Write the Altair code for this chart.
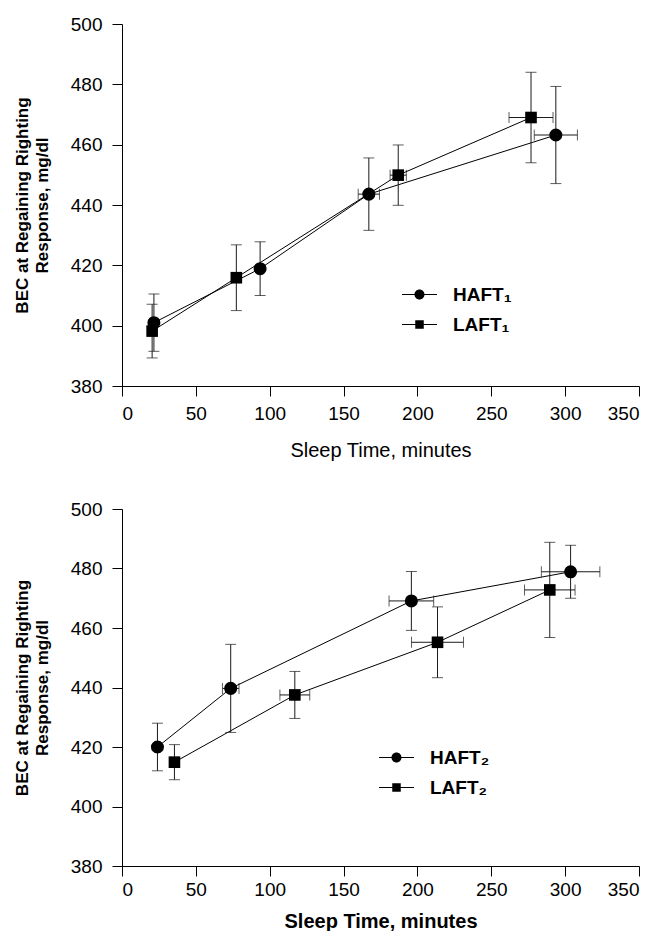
import altair as alt
import pandas as pd

FONT = "Liberation Sans"

# ---- Panel 1 (HAFT1 / LAFT1) ----
haft1_time = [21.6, 93.5, 167.1, 293.7]
haft1_time_err = [2.0, 2.0, 7.2, 14.6]
haft1_bec = [401.0, 418.9, 443.6, 463.2]
haft1_bec_err = [9.5, 8.9, 12.0, 16.1]

laft1_time = [20.4, 77.4, 187.0, 276.9]
laft1_time_err = [1.5, 2.0, 5.5, 14.9]
laft1_bec = [398.2, 415.9, 449.9, 469.0]
laft1_bec_err = [8.9, 10.9, 10.0, 15.0]

# ---- Panel 2 (HAFT2 / LAFT2) ----
haft2_time = [24.0, 73.6, 195.9, 303.7]
haft2_time_err = [2.0, 5.6, 15.1, 19.8]
haft2_bec = [420.0, 439.7, 469.1, 478.9]
haft2_bec_err = [8.0, 14.8, 9.9, 8.9]

laft2_time = [35.5, 117.0, 213.6, 289.6]
laft2_time_err = [2.0, 10.1, 17.6, 17.1]
laft2_bec = [414.9, 437.5, 455.2, 472.8]
laft2_bec_err = [5.9, 7.9, 11.9, 16.0]

x_ticks = [0, 50, 100, 150, 200, 250, 300, 350]
y_ticks = [380, 400, 420, 440, 460, 480, 500]
x_title = "Sleep Time, minutes"
y_title = ["BEC at Regaining Righting", "Response, mg/dl"]

# legend symbols: line through a circle / square (custom SVG paths)
CIRCLE_SYM = "M-3.5,-0.08H3.5V0.08H-3.5ZM1,0A1,1,0,1,1,-1,0A1,1,0,1,1,1,0Z"
SQUARE_SYM = "M-3.5,-0.08H3.5V0.08H-3.5ZM-0.85,-0.85H0.85V0.85H-0.85Z"


def make_df(name, t, te, b, be):
    return pd.DataFrame({"series": name, "time": t, "terr": te, "bec": b, "berr": be})


def panel(names, h, l, height, bold_x, lx, ly, lab_pad, title_pad):
    df = pd.concat([make_df(names[0], *h), make_df(names[1], *l)], ignore_index=True)
    base = alt.Chart(df).transform_calculate(
        blo="datum.bec - datum.berr",
        bhi="datum.bec + datum.berr",
        tlo="datum.time - datum.terr",
        thi="datum.time + datum.terr",
    )
    xs = alt.Scale(domain=[0, 350], nice=False, zero=False)
    ys = alt.Scale(domain=[380, 500], nice=False, zero=False)
    x = alt.X(
        "time:Q",
        scale=xs,
        axis=alt.Axis(
            values=x_ticks,
            title=x_title,
            titleFontWeight="bold" if bold_x else "normal",
            titleFontSize=20,
            titlePadding=title_pad,
            labelPadding=lab_pad,
        ),
    )
    y = alt.Y(
        "bec:Q",
        scale=ys,
        axis=alt.Axis(
            values=y_ticks,
            title=y_title,
            titleFontWeight="bold",
            titleFontSize=17,
            titleLineHeight=20,
            titlePadding=19,
            labelPadding=10,
        ),
    )
    ink = "#1a1a1a"
    lines = base.mark_line(color="black", strokeWidth=1).encode(
        x=x, y=y, detail="series:N", order="time:Q"
    )
    vbar = base.mark_rule(color=ink, strokeWidth=1).encode(
        x="time:Q", y="blo:Q", y2="bhi:Q"
    )
    vcap_lo = base.mark_tick(orient="horizontal", size=11, thickness=1, color=ink).encode(
        x="time:Q", y="blo:Q"
    )
    vcap_hi = base.mark_tick(orient="horizontal", size=11, thickness=1, color=ink).encode(
        x="time:Q", y="bhi:Q"
    )
    hbar = base.mark_rule(color=ink, strokeWidth=1).encode(
        x="tlo:Q", x2="thi:Q", y="bec:Q"
    )
    hcap_lo = base.mark_tick(orient="vertical", size=11, thickness=1, color=ink).encode(
        x="tlo:Q", y="bec:Q"
    )
    hcap_hi = base.mark_tick(orient="vertical", size=11, thickness=1, color=ink).encode(
        x="thi:Q", y="bec:Q"
    )
    circles = (
        base.transform_filter(alt.datum.series == names[0])
        .mark_point(shape="circle", filled=True, size=170, color="black", opacity=1)
        .encode(x="time:Q", y="bec:Q")
    )
    squares = (
        base.transform_filter(alt.datum.series == names[1])
        .mark_point(shape="square", filled=True, size=135, color="black", opacity=1)
        .encode(x="time:Q", y="bec:Q")
    )
    legend_layer = (
        base.transform_filter("false")
        .mark_point(filled=True, size=169, color="black", opacity=1, strokeWidth=1)
        .encode(
            x="time:Q",
            y="bec:Q",
            shape=alt.Shape(
                "series:N",
                scale=alt.Scale(domain=names, range=[CIRCLE_SYM, SQUARE_SYM]),
                legend=alt.Legend(
                    title=None,
                    orient="none",
                    legendX=lx,
                    legendY=ly,
                    labelFont=FONT,
                    labelFontSize=19,
                    labelFontWeight="bold",
                    labelColor="black",
                    labelOffset=24,
                    rowPadding=10,
                    padding=0,
                    symbolStrokeWidth=0,
                    symbolFillColor="black",
                    symbolOpacity=1,
                ),
            ),
        )
    )
    return alt.layer(
        lines, vbar, vcap_lo, vcap_hi, hbar, hcap_lo, hcap_hi, circles, squares, legend_layer
    ).properties(width=517, height=height)


top = panel(
    ["HAFT\u2081", "LAFT\u2081"],
    (haft1_time, haft1_time_err, haft1_bec, haft1_bec_err),
    (laft1_time, laft1_time_err, laft1_bec, laft1_bec_err),
    362, False, 288, 261, 8, 17,
)
bottom = panel(
    ["HAFT\u2082", "LAFT\u2082"],
    (haft2_time, haft2_time_err, haft2_bec, haft2_bec_err),
    (laft2_time, laft2_time_err, laft2_bec, laft2_bec_err),
    357, True, 265, 239, 4, 12,
)

chart = (
    alt.vconcat(top, bottom, spacing=40)
    .resolve_scale(shape="independent")
    .resolve_legend(shape="independent")
    .properties(padding={"left": 13, "top": 15, "right": 5, "bottom": 0}, background="white")
    .configure_view(stroke=None)
    .configure_axis(
        grid=False,
        domainColor="black",
        domainWidth=1,
        tickColor="black",
        tickWidth=1,
        tickSize=10,
        labelColor="black",
        labelFont=FONT,
        labelFontSize=19,
        titleColor="black",
        titleFont=FONT,
    )
)

chart.save("out.html", embed_options={"renderer": "svg", "actions": False})
